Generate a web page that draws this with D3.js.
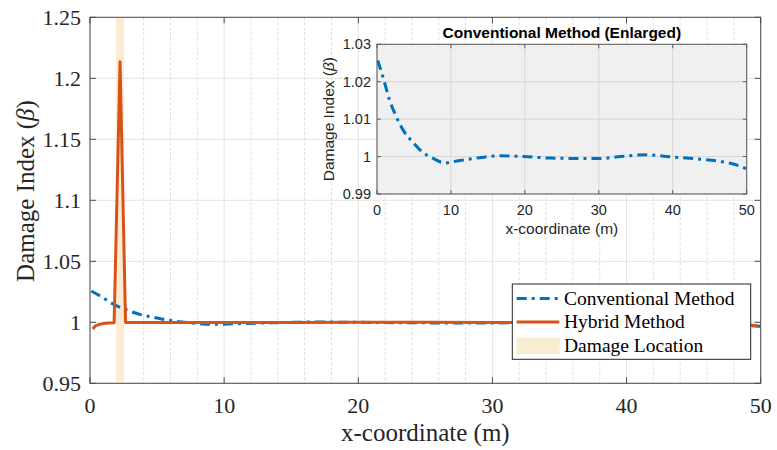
<!DOCTYPE html>
<html>
<head>
<meta charset="utf-8">
<script src="https://cdn.jsdelivr.net/npm/d3@7"></script>
<style>
  body { margin: 0; background: #fff; }
  svg { display: block; }
</style>
</head>
<body>
<div id="chart"></div>
<script>
// values
let convX = [0.1, 0.8, 1.7, 2.6, 3.5, 4.9, 6.2, 7.6, 9.2, 10.8, 13.9, 16.6, 19.9, 23.4, 27, 30.2, 32.9, 36.5, 39.2, 43.7, 46.4, 48.2, 50],
  convY = [1.0257, 1.0213, 1.0151, 1.0107, 1.0072, 1.0037, 1.0011, 0.9995, 0.9983, 0.9988, 0.9997, 1.0002, 1.0, 0.9996, 0.9995, 0.9995, 1.0, 1.0005, 1.0, 0.9993, 0.9987, 0.998, 0.9967];
let hybX = [0.2, 0.4, 0.7, 1.0, 1.4, 1.8, 2.24, 2.65, 6, 10, 15, 20, 25, 30, 35, 40, 45, 47, 48.5, 49.8],
  hybY = [0.9946, 0.997, 0.9983, 0.999, 0.9995, 0.9997, 1.2136, 0.9999, 0.9999, 0.9998, 0.9999, 1.0001, 1.0, 0.9999, 0.9999, 1.0, 0.9999, 0.9995, 0.9985, 0.997];
let damageZone = [1.95, 2.55];
let xTicks = [0, 10, 20, 30, 40, 50],
  xMinor = [2, 4, 6, 8, 12, 14, 16, 18, 22, 24, 26, 28, 32, 34, 36, 38, 42, 44, 46, 48],
  yTicks = [0.95, 1, 1.05, 1.1, 1.15, 1.2, 1.25],
  insetYTicks = [0.99, 1, 1.01, 1.02, 1.03];
let legendNames = ['Conventional Method', 'Hybrid Method', 'Damage Location'];

let blue = '#0072BD', orange = '#D95319', band = '#f9ecd2';
let serif = '"Liberation Serif", "Times New Roman", serif',
  sans = '"Liberation Sans", Arial, sans-serif';

let svg = d3.select('#chart').append('svg')
  .attr('width', 777)
  .attr('height', 450);

// main axes
let margin = {top: 17.3, left: 90, right: 16.3, bottom: 66.7},
  width = 777 - margin.left - margin.right,
  height = 450 - margin.top - margin.bottom;

let g = svg.append('g')
  .attr('transform', 'translate(' + margin.left + ',' + margin.top + ')');

let x = d3.scaleLinear().domain([0, 50]).range([0, width]);
let y = d3.scaleLinear().domain([0.95, 1.25]).range([height, 0]);

g.append('clipPath').attr('id', 'clipMain')
  .append('rect').attr('width', width).attr('height', height);

// grid
g.selectAll('.minor').data(xMinor).enter().append('line')
  .attr('x1', d => x(d)).attr('x2', d => x(d))
  .attr('y1', 0).attr('y2', height)
  .style('stroke', '#dedede').style('stroke-width', 1)
  .style('stroke-dasharray', '3,2');
g.selectAll('.vgrid').data(xTicks).enter().append('line')
  .attr('x1', d => x(d)).attr('x2', d => x(d))
  .attr('y1', 0).attr('y2', height)
  .style('stroke', '#e3e3e3').style('stroke-width', 1);
g.selectAll('.hgrid').data(yTicks).enter().append('line')
  .attr('x1', 0).attr('x2', width)
  .attr('y1', d => y(d)).attr('y2', d => y(d))
  .style('stroke', '#e3e3e3').style('stroke-width', 1);

// damage location band
g.append('rect')
  .attr('x', x(damageZone[0]))
  .attr('width', x(damageZone[1]) - x(damageZone[0]))
  .attr('y', 0).attr('height', height)
  .style('fill', band);

let conv = convX.map((v, i) => ({x: v, y: convY[i]}));
let hyb = hybX.map((v, i) => ({x: v, y: hybY[i]}));

let lineMain = d3.line().x(d => x(d.x)).y(d => y(d.y)).curve(d3.curveMonotoneX);
let lineHyb = d3.line().x(d => x(d.x)).y(d => y(d.y));

let plot = g.append('g').attr('clip-path', 'url(#clipMain)');
plot.append('path').datum(conv)
  .attr('d', lineMain)
  .style('fill', 'none').style('stroke', blue).style('stroke-width', 3)
  .style('stroke-dasharray', '10,5,3,5');
plot.append('path').datum(hyb)
  .attr('d', lineHyb)
  .style('fill', 'none').style('stroke', orange).style('stroke-width', 3)
  .style('stroke-linejoin', 'round');

// axes box with inward ticks
let axisColor = '#4a4a4a';
g.append('rect').attr('width', width).attr('height', height)
  .style('fill', 'none').style('stroke', axisColor).style('stroke-width', 1);

let tl = 6;
xTicks.forEach(function(t) {
  g.append('line').attr('x1', x(t)).attr('x2', x(t)).attr('y1', height).attr('y2', height - tl).style('stroke', axisColor);
  g.append('line').attr('x1', x(t)).attr('x2', x(t)).attr('y1', 0).attr('y2', tl).style('stroke', axisColor);
});
yTicks.forEach(function(t) {
  g.append('line').attr('x1', 0).attr('x2', tl).attr('y1', y(t)).attr('y2', y(t)).style('stroke', axisColor);
  g.append('line').attr('x1', width - tl).attr('x2', width).attr('y1', y(t)).attr('y2', y(t)).style('stroke', axisColor);
});

g.selectAll('.xlab').data(xTicks).enter().append('text')
  .attr('x', d => x(d)).attr('y', height + 29.5)
  .style('font-family', serif).style('font-size', '22px').style('fill', '#262626')
  .style('text-anchor', 'middle')
  .text(d => d);
g.selectAll('.ylab').data(yTicks).enter().append('text')
  .attr('x', -9).attr('y', d => y(d))
  .attr('dy', '0.35em')
  .style('font-family', serif).style('font-size', '22px').style('fill', '#262626')
  .style('text-anchor', 'end')
  .text(d => d);

g.append('text')
  .attr('x', width / 2).attr('y', height + 58)
  .style('font-family', serif).style('font-size', '25px').style('fill', '#262626')
  .style('text-anchor', 'middle')
  .text('x-coordinate (m)');

let yl = svg.append('text')
  .attr('transform', 'translate(34,191) rotate(-90)')
  .style('font-family', serif).style('font-size', '25px').style('fill', '#262626')
  .style('text-anchor', 'middle');
yl.append('tspan').text('Damage Index (');
yl.append('tspan').style('font-style', 'italic').text('\u03B2');
yl.append('tspan').text(')');

// inset axes
let inL = 377, inT = 44.3, inW = 369.7, inH = 149.7;
let ig = svg.append('g').attr('transform', 'translate(' + inL + ',' + inT + ')');
let xi = d3.scaleLinear().domain([0, 50]).range([0, inW]);
let yi = d3.scaleLinear().domain([0.99, 1.03]).range([inH, 0]);

ig.append('rect').attr('width', inW).attr('height', inH).style('fill', '#f0f0f0');
ig.selectAll('.ivg').data(xTicks).enter().append('line')
  .attr('x1', d => xi(d)).attr('x2', d => xi(d)).attr('y1', 0).attr('y2', inH)
  .style('stroke', '#d6d6d6');
ig.selectAll('.ihg').data(insetYTicks).enter().append('line')
  .attr('x1', 0).attr('x2', inW).attr('y1', d => yi(d)).attr('y2', d => yi(d))
  .style('stroke', '#d6d6d6');

ig.append('clipPath').attr('id', 'clipInset')
  .append('rect').attr('width', inW).attr('height', inH);
let lineInset = d3.line().x(d => xi(d.x)).y(d => yi(d.y)).curve(d3.curveMonotoneX);
ig.append('g').attr('clip-path', 'url(#clipInset)')
  .append('path').datum(conv)
  .attr('d', lineInset)
  .style('fill', 'none').style('stroke', blue).style('stroke-width', 3)
  .style('stroke-dasharray', '10,5,3,5');

let inAxis = '#5a5a5a';
ig.append('rect').attr('width', inW).attr('height', inH)
  .style('fill', 'none').style('stroke', inAxis);
xTicks.forEach(function(t) {
  ig.append('line').attr('x1', xi(t)).attr('x2', xi(t)).attr('y1', inH).attr('y2', inH - 4).style('stroke', inAxis);
  ig.append('line').attr('x1', xi(t)).attr('x2', xi(t)).attr('y1', 0).attr('y2', 4).style('stroke', inAxis);
});
insetYTicks.forEach(function(t) {
  ig.append('line').attr('x1', 0).attr('x2', 4).attr('y1', yi(t)).attr('y2', yi(t)).style('stroke', inAxis);
  ig.append('line').attr('x1', inW - 4).attr('x2', inW).attr('y1', yi(t)).attr('y2', yi(t)).style('stroke', inAxis);
});

ig.selectAll('.ixl').data(xTicks).enter().append('text')
  .attr('x', d => xi(d)).attr('y', inH + 21)
  .style('font-family', sans).style('font-size', '14.5px').style('fill', '#262626')
  .style('text-anchor', 'middle')
  .text(d => d);
ig.selectAll('.iyl').data(insetYTicks).enter().append('text')
  .attr('x', -6).attr('y', d => yi(d)).attr('dy', '0.35em')
  .style('font-family', sans).style('font-size', '14.5px').style('fill', '#262626')
  .style('text-anchor', 'end')
  .text(d => d);

ig.append('text')
  .attr('x', inW / 2).attr('y', -6)
  .style('font-family', sans).style('font-size', '15.5px').style('font-weight', 'bold').style('fill', '#000')
  .style('text-anchor', 'middle')
  .text('Conventional Method (Enlarged)');
ig.append('text')
  .attr('x', inW / 2).attr('y', inH + 40)
  .style('font-family', sans).style('font-size', '15.5px').style('fill', '#262626')
  .style('text-anchor', 'middle')
  .text('x-coordinate (m)');
let iyl = ig.append('text')
  .attr('transform', 'translate(-43,' + (inH / 2) + ') rotate(-90)')
  .style('font-family', sans).style('font-size', '15.5px').style('fill', '#262626')
  .style('text-anchor', 'middle');
iyl.append('tspan').text('Damage Index (');
iyl.append('tspan').style('font-style', 'italic').text('\u03B2');
iyl.append('tspan').text(')');

// legend
let lg = svg.append('g').attr('transform', 'translate(512.3,284)');
lg.append('rect').attr('width', 238.4).attr('height', 75.3)
  .style('fill', '#fff').style('stroke', '#262626').style('stroke-width', 1);
let rowY = [14.5, 38, 61.5];
lg.append('line').attr('x1', 4.4).attr('x2', 47).attr('y1', rowY[0]).attr('y2', rowY[0])
  .style('stroke', blue).style('stroke-width', 3).style('stroke-dasharray', '10,5,3,5');
lg.append('line').attr('x1', 4.4).attr('x2', 47).attr('y1', rowY[1]).attr('y2', rowY[1])
  .style('stroke', orange).style('stroke-width', 3);
lg.append('rect').attr('x', 4.4).attr('width', 43).attr('y', rowY[2] - 8).attr('height', 16.6)
  .style('fill', band);
lg.selectAll('.lt').data(legendNames).enter().append('text')
  .attr('x', 51.7).attr('y', (d, i) => rowY[i]).attr('dy', '0.33em')
  .style('font-family', serif).style('font-size', '19.5px').style('fill', '#000')
  .text(d => d);
</script>
</body>
</html>
